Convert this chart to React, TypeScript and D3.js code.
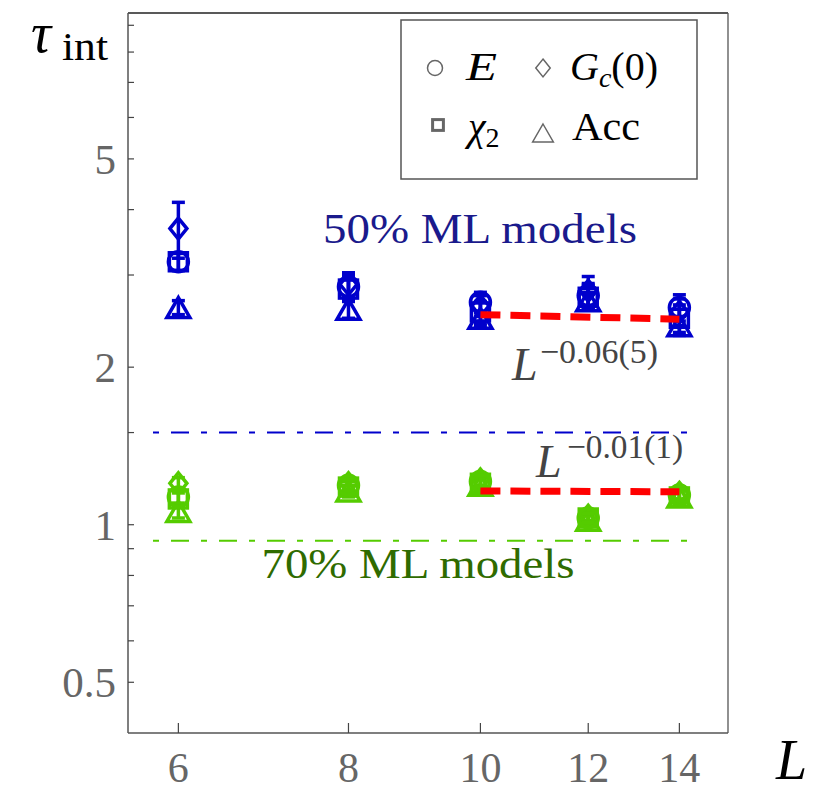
import * as d3 from 'd3';

// system sizes L
const sizes = [6, 8, 10, 12, 14];

// 50% ML models (blue)
const blueE = [3.18, 2.85, 2.66, 2.74, 2.6];
const blueEErr = [0.12, 0.15, 0.12, 0.15, 0.15];
const blueG = [3.68, 2.88, 2.62, 2.8, 2.55];
const blueGErr = [0.45, 0.15, 0.12, 0.18, 0.15];
const blueChi = [3.18, 2.82, 2.55, 2.72, 2.48];
const blueChiErr = [0.12, 0.15, 0.12, 0.15, 0.15];
const blueAcc = [2.6, 2.58, 2.48, 2.68, 2.4];
const blueAccErr = [0.08, 0.1, 0.08, 0.1, 0.1];

// 70% ML models (green)
const greenE = [1.13, 1.19, 1.21, 1.03, 1.14];
const greenEErr = [0.03, 0.03, 0.03, 0.02, 0.03];
const greenG = [1.2, 1.2, 1.22, 1.04, 1.15];
const greenGErr = [0.03, 0.03, 0.03, 0.02, 0.03];
const greenChi = [1.12, 1.18, 1.2, 1.03, 1.13];
const greenChiErr = [0.03, 0.03, 0.03, 0.02, 0.03];
const greenAcc = [1.06, 1.16, 1.19, 1.02, 1.13];
const greenAccErr = [0.03, 0.03, 0.03, 0.02, 0.03];

// power-law fits over L = 10..14
const fitL = [10, 14];
const blueFit = [2.52, 2.47];
const greenFit = [1.16, 1.156];

// reference levels (dash-dot)
const blueLevel = 1.5;
const greenLevel = 0.932;

const yMajor = [0.5, 1, 2, 5];
const yMinor = [0.6, 0.7, 0.8, 0.9, 1.5, 3, 4, 6, 7, 8, 9];

const W = 834;
const H = 790;
const left = 128;
const right = 728;
const top = 13;
const bottom = 733;

const BLUE = '#0000cc';
const GREEN = '#55cc00';
const serif = "'Liberation Serif', 'DejaVu Serif', serif";

type Shape = 'circle' | 'square' | 'diamond' | 'triangle';

// k scales the marker, 1 = data-point size
function marker(shape: Shape, cx: number, cy: number, color: string, sw: number, k: number, key: string) {
  if (shape === 'circle') {
    return <circle key={key} cx={cx} cy={cy} r={10 * k} fill='none' stroke={color} strokeWidth={sw} />;
  }
  if (shape === 'square') {
    const h = 9 * k;
    return <rect key={key} x={cx - h} y={cy - h} width={2 * h} height={2 * h} fill='none' stroke={color} strokeWidth={sw} />;
  }
  if (shape === 'diamond') {
    const hw = 8.5 * k;
    const hh = 10.5 * k;
    return (
      <path
        key={key}
        d={`M${cx},${cy - hh}L${cx + hw},${cy}L${cx},${cy + hh}L${cx - hw},${cy}Z`}
        fill='none'
        stroke={color}
        strokeWidth={sw}
      />
    );
  }
  const hw = 11.5 * k;
  const hh = 10 * k;
  return (
    <path
      key={key}
      d={`M${cx},${cy - hh}L${cx + hw},${cy + hh}L${cx - hw},${cy + hh}Z`}
      fill='none'
      stroke={color}
      strokeWidth={sw}
    />
  );
}

export default function App() {
  const x = d3.scaleLog().domain([5.51, 15.2]).range([left, right]);
  const y = d3.scaleLog().domain([0.4, 9.5]).range([bottom, top]);

  const series: { vals: number[]; errs: number[]; shape: Shape; color: string }[] = [
    { vals: blueAcc, errs: blueAccErr, shape: 'triangle', color: BLUE },
    { vals: blueChi, errs: blueChiErr, shape: 'square', color: BLUE },
    { vals: blueG, errs: blueGErr, shape: 'diamond', color: BLUE },
    { vals: blueE, errs: blueEErr, shape: 'circle', color: BLUE },
    { vals: greenAcc, errs: greenAccErr, shape: 'triangle', color: GREEN },
    { vals: greenChi, errs: greenChiErr, shape: 'square', color: GREEN },
    { vals: greenG, errs: greenGErr, shape: 'diamond', color: GREEN },
    { vals: greenE, errs: greenEErr, shape: 'circle', color: GREEN },
  ];

  const marks = [];
  for (let si = 0; si < series.length; si++) {
    const s = series[si];
    for (let i = 0; i < sizes.length; i++) {
      const cx = x(sizes[i]);
      const cy = y(s.vals[i]);
      const y1 = y(s.vals[i] + s.errs[i]);
      const y2 = y(s.vals[i] - s.errs[i]);
      marks.push(
        <g key={`s${si}_${i}`}>
          <line x1={cx} x2={cx} y1={y1} y2={y2} stroke={s.color} strokeWidth={3.5} />
          <line x1={cx - 6.5} x2={cx + 6.5} y1={y1} y2={y1} stroke={s.color} strokeWidth={3.5} />
          <line x1={cx - 6.5} x2={cx + 6.5} y1={y2} y2={y2} stroke={s.color} strokeWidth={3.5} />
          {marker(s.shape, cx, cy, s.color, 3.5, 1, `m${si}_${i}`)}
        </g>
      );
    }
  }

  const fitLine = d3
    .line<number>()
    .x((_, i) => x(fitL[i]))
    .y((d) => y(d));

  const tickColor = '#444';
  const labelColor = '#666';

  return (
    <svg width={W} height={H} style={{ position: 'absolute', left: 0, top: 0, background: '#fff' }} fontFamily={serif}>
      {/* frame */}
      <line x1={left} x2={right} y1={top} y2={top} stroke='#222' strokeWidth={1.3} />
      <line x1={right} x2={right} y1={top} y2={bottom} stroke='#555' strokeWidth={1.3} />
      <line x1={left} x2={left} y1={top} y2={bottom} stroke='#555' strokeWidth={1.5} />
      <line x1={left} x2={right} y1={bottom} y2={bottom} stroke='#555' strokeWidth={1.5} />

      {/* y ticks */}
      {yMajor.concat(yMinor).map((v) => (
        <line key={`yt${v}`} x1={left} x2={left + 6} y1={y(v)} y2={y(v)} stroke={tickColor} strokeWidth={1.2} />
      ))}
      {yMajor.map((v) => (
        <text key={`yl${v}`} x={left - 12} y={y(v)} dy='0.35em' textAnchor='end' fontSize={43} fill={labelColor}>
          {v}
        </text>
      ))}

      {/* x ticks */}
      {sizes.map((v) => (
        <g key={`xt${v}`}>
          <line x1={x(v)} x2={x(v)} y1={bottom} y2={bottom - 10} stroke={tickColor} strokeWidth={1.2} />
          <text x={x(v)} y={782} textAnchor='middle' fontSize={42} fill={labelColor}>
            {v}
          </text>
        </g>
      ))}

      {/* axis titles */}
      <text x={31} y={52} fontSize={56} fontStyle='italic' fill='#000'>
        τ
      </text>
      <text x={62} y={60} fontSize={40} fill='#000' textLength={46} lengthAdjust='spacingAndGlyphs'>
        int
      </text>
      <text x={776} y={779} fontSize={56} fontStyle='italic' fill='#000'>
        L
      </text>

      {/* reference levels */}
      <line x1={153} x2={697} y1={y(blueLevel)} y2={y(blueLevel)} stroke={BLUE} strokeWidth={2} strokeDasharray='6,12,18,12' />
      <line x1={153} x2={697} y1={y(greenLevel)} y2={y(greenLevel)} stroke={GREEN} strokeWidth={2} strokeDasharray='6,12,18,12' />

      {marks}

      {/* fits */}
      <path d={fitLine(blueFit) ?? ''} fill='none' stroke='#ff0000' strokeWidth={7} strokeDasharray='20,10' />
      <path d={fitLine(greenFit) ?? ''} fill='none' stroke='#ff0000' strokeWidth={7} strokeDasharray='20,10' />

      {/* annotations */}
      <text x={480} y={243} textAnchor='middle' fontSize={42} fill='#1a1a8c' textLength={314} lengthAdjust='spacingAndGlyphs'>
        50% ML models
      </text>
      <text x={418} y={578} textAnchor='middle' fontSize={42} fill='#2f6b00' textLength={313} lengthAdjust='spacingAndGlyphs'>
        70% ML models
      </text>
      <text x={512} y={380} fill='#444'>
        <tspan fontSize={46} fontStyle='italic'>L</tspan>
        <tspan x={540} y={363} fontSize={34} textLength={118} lengthAdjust='spacingAndGlyphs'>−0.06(5)</tspan>
      </text>
      <text x={536} y={477} fill='#444'>
        <tspan fontSize={46} fontStyle='italic'>L</tspan>
        <tspan x={567} y={458} fontSize={34} textLength={116} lengthAdjust='spacingAndGlyphs'>−0.01(1)</tspan>
      </text>

      {/* legend */}
      <rect x={401} y={20} width={296} height={159} fill='#fff' stroke='#555' strokeWidth={1.5} />
      {marker('circle', 435, 68, '#666', 1.5, 0.75, 'lg1')}
      <text x={466} y={80} fontSize={40} fontStyle='italic' textLength={31} lengthAdjust='spacingAndGlyphs'>
        E
      </text>
      {marker('diamond', 543, 68, '#666', 1.5, 0.85, 'lg2')}
      <text x={570} y={80} fontSize={40}>
        <tspan fontStyle='italic'>G</tspan>
        <tspan fontSize={28} fontStyle='italic' dy={7}>c</tspan>
        <tspan dy={-7}>(0)</tspan>
      </text>
      {marker('square', 438, 125, '#666', 3, 0.6, 'lg3')}
      <text x={468} y={140} fontSize={40}>
        <tspan fontStyle='italic'>χ</tspan>
        <tspan fontSize={28} dy={7}>2</tspan>
      </text>
      {marker('triangle', 543, 133, '#666', 1.5, 0.9, 'lg4')}
      <text x={572} y={140} fontSize={40} textLength={68} lengthAdjust='spacingAndGlyphs'>
        Acc
      </text>
    </svg>
  );
}
